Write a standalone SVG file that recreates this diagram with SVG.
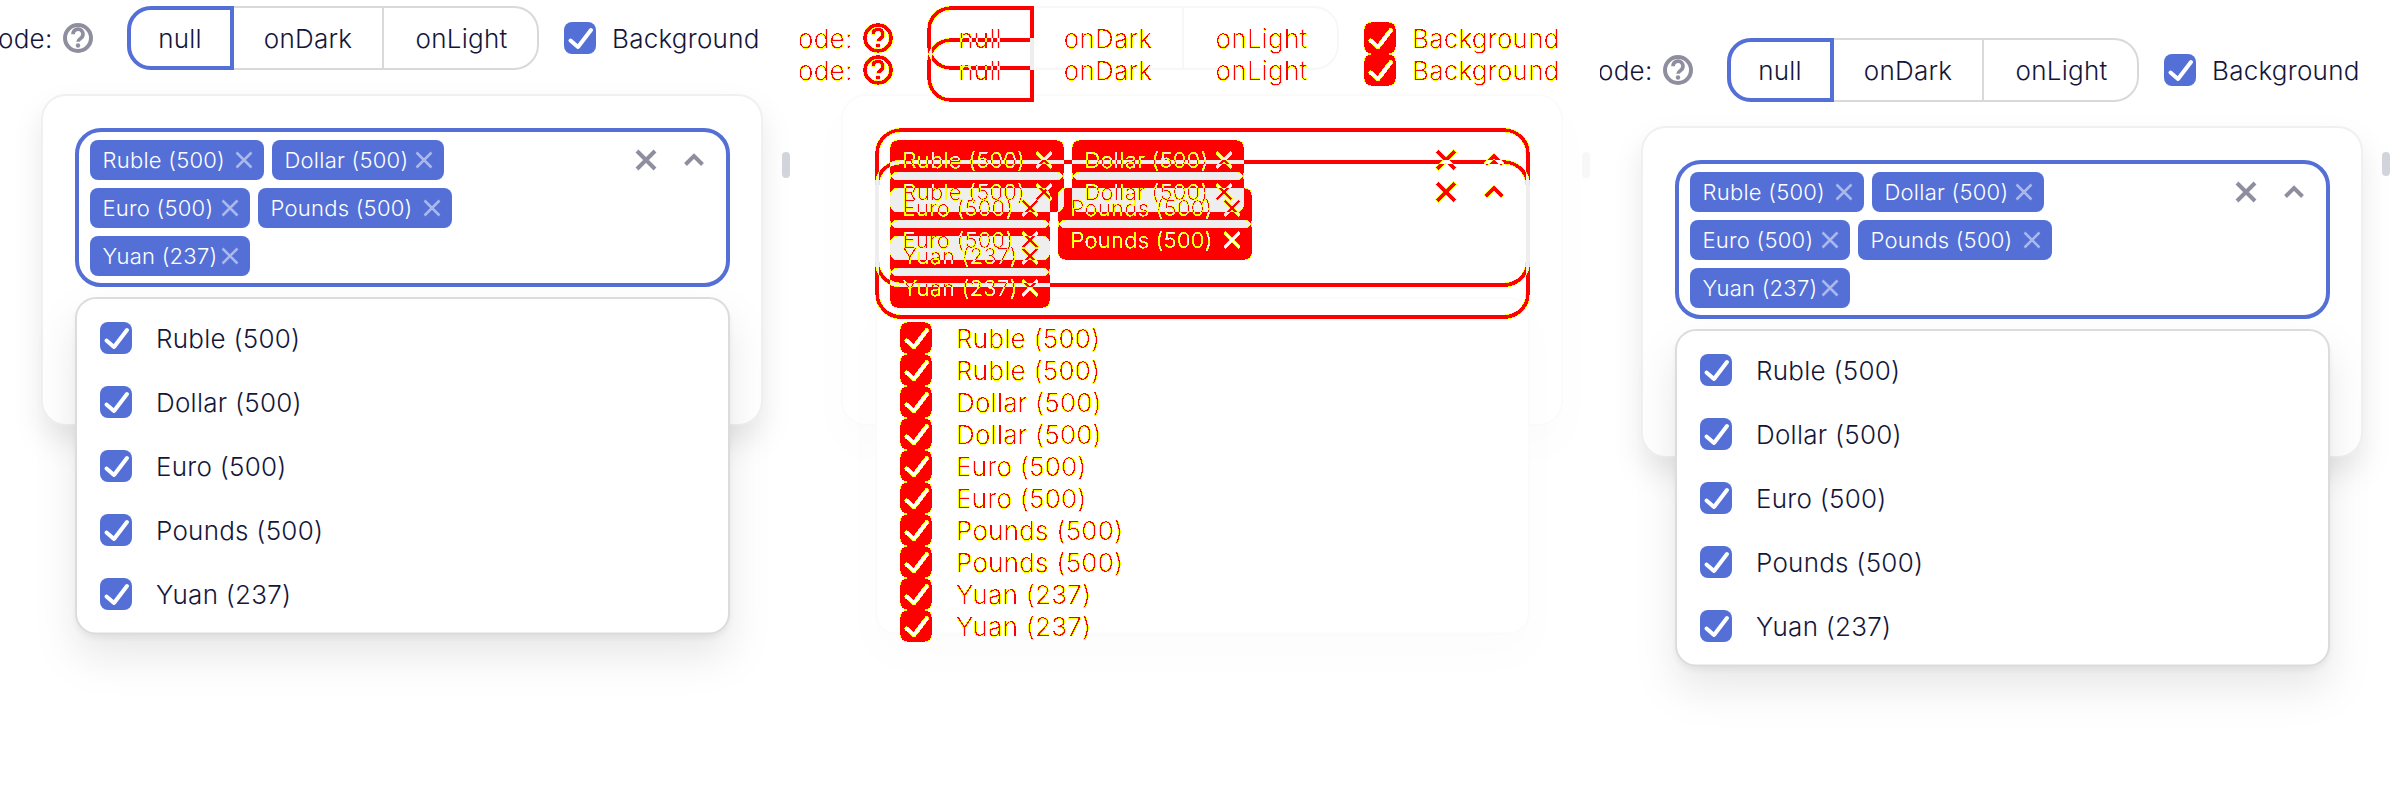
<svg xmlns="http://www.w3.org/2000/svg" width="2400" height="800" viewBox="0 0 2400 800">
<style>
text{font-family:Inter,"Noto Sans","Liberation Sans",sans-serif;font-weight:300;letter-spacing:.25px}
.t{font-size:26px;fill:#14163a}
.ct{font-size:22px;fill:#fff}
.m{text-anchor:middle}
.b{fill:#5470d6}
.cb{fill:#5470d6;color:#fff}
.cx{stroke:#aab8ec;stroke-width:2.5;fill:none}
.ci{stroke:#8e8e9e;stroke-width:4;fill:none}
.ch{stroke:#8e8e9e;stroke-width:4;fill:none}
.q{stroke:#8e8e9e;fill:none}
.q2{fill:#8e8e9e}
.act{stroke:#5470d6;stroke-width:4;fill:none}
.seg{stroke:#d9d9d9;stroke-width:2;fill:#fff}
.panel{stroke:#f0f0f0;stroke-width:2;fill:#fff}
.drop{stroke:#dcdcdc;stroke-width:2;fill:#fff}
.sb{fill:#d1d5db}
.inp{stroke:#5470d6;stroke-width:4;fill:#fff}
.mask .t{fill:#fff}
.mask .ct{fill:#000}
.mask .b{fill:#fff}
.mask .cb{fill:#fff;color:#000}
.mask .cx{stroke:#000}
.mask .ci,.mask .ch,.mask .q,.mask .act{stroke:#fff}
.mask .q2{fill:#fff}
.mask .inp{stroke:#fff;fill:#000}
.pale .seg{stroke:#f7f7f7}
.pale .panel{stroke:#fbfbfb}
.pale .drop{stroke:#fbfbfb}
.pale .b,.pale .cb{fill:#eee}
.pale .act{stroke:#eee}
.pale .inp{stroke:#eee;fill:#fff}
.pale .sb{fill:#f7f7f7}
</style>
<defs>
<g id="cbx"><rect width="32" height="32" rx="8"/><path d="M6.5 18.5L14 25L27 8" fill="none" stroke="currentColor" stroke-width="4" stroke-linecap="round" stroke-linejoin="round"/></g>
<path id="x8" d="M-7.5-7.5L7.5 7.5M7.5-7.5L-7.5 7.5"/>
<path id="x9" d="M-9-9L9 9M9-9L-9 9"/>
<path id="chev" d="M-8.5 4.5L0-4L8.5 4.5"/>
<g id="qm"><circle cx="78" cy="38" r="13" stroke-width="4"/><path d="M73 34.2a5 5 0 1 1 7.6 4.2c-1.8 1.2-2.6 1.9-2.6 3.4" stroke-width="3.6"/></g>
<path id="active" d="M232 8H151a22 22 0 0 0-22 22V46a22 22 0 0 0 22 22H232Z"/>
<clipPath id="pc"><rect x="0" y="-100" width="800" height="1000"/></clipPath>
<filter id="sh1" x="-20%" y="-20%" width="140%" height="150%" color-interpolation-filters="sRGB"><feDropShadow dx="0" dy="16" stdDeviation="14" flood-color="#000" flood-opacity=".09"/></filter>
<filter id="sh2" x="-20%" y="-20%" width="140%" height="150%" color-interpolation-filters="sRGB"><feDropShadow dx="0" dy="4" stdDeviation="3" flood-color="#000" flood-opacity=".05"/><feDropShadow dx="0" dy="22" stdDeviation="20" flood-color="#000" flood-opacity=".09"/></filter>
<filter id="sh3" x="-20%" y="-20%" width="140%" height="150%" color-interpolation-filters="sRGB"><feDropShadow dx="0" dy="20" stdDeviation="18" flood-color="#000" flood-opacity=".01"/></filter>
<filter id="diff" filterUnits="userSpaceOnUse" x="800" y="0" width="800" height="800" color-interpolation-filters="sRGB">
<feColorMatrix type="matrix" values="1 0 0 0 0 1 0 0 0 0 1 0 0 0 0 0 0 0 0 1"/>
<feComponentTransfer>
<feFuncR type="discrete" tableValues="0 1 1 1 1 1 1 1 1 1"/>
<feFuncG type="discrete" tableValues="0 1 1 1 1 1 1 1 0 0"/>
<feFuncB type="discrete" tableValues="0 1 1 1 1 1 1 1 1 1"/>
</feComponentTransfer>
<feColorMatrix type="matrix" values="1 0 0 0 0 0 1 0 0 0 0 0 0 0 0 0 0 1 0 0"/>
</filter>
</defs>
<rect width="2400" height="800" fill="#fff"/>

<g id="panel-left">
<g id="left-toolbar" clip-path="url(#pc)">
<text class="t" x="-2" y="48">ode:</text>
<use href="#qm" class="q"/><circle class="q2" cx="78" cy="45.5" r="2.2"/>
<rect class="seg" x="128" y="7" width="410" height="62" rx="24"/>
<path class="seg" d="M383 7V69"/>
<use href="#active" class="act"/>
<text class="t m" x="180" y="48">null</text><text class="t m" x="308" y="48">onDark</text><text class="t m" x="461.5" y="48">onLight</text>
<use href="#cbx" class="cb" x="564" y="22"/><text class="t" x="612" y="48">Background</text>
</g>
<g id="left-card">
<rect class="panel" x="42" y="95" width="720" height="330" rx="24" filter="url(#sh1)"/>
<rect class="sb" x="782" y="152" width="8" height="26" rx="4"/>
<rect class="inp" x="77" y="130" width="651" height="155" rx="24"/>
<rect class="b" x="90" y="140" width="174" height="40" rx="8"/><text class="ct" x="102.5" y="168">Ruble (500)</text><use class="cx" href="#x8" x="244" y="160"/>
<rect class="b" x="272" y="140" width="172" height="40" rx="8"/><text class="ct" x="284.5" y="168">Dollar (500)</text><use class="cx" href="#x8" x="424" y="160"/>
<rect class="b" x="90" y="188" width="160" height="40" rx="8"/><text class="ct" x="102.5" y="216">Euro (500)</text><use class="cx" href="#x8" x="230" y="208"/>
<rect class="b" x="258" y="188" width="194" height="40" rx="8"/><text class="ct" x="270.5" y="216">Pounds (500)</text><use class="cx" href="#x8" x="432" y="208"/>
<rect class="b" x="90" y="236" width="160" height="40" rx="8"/><text class="ct" x="102.5" y="264">Yuan (237)</text><use class="cx" href="#x8" x="230" y="256"/>
<use class="ci" href="#x9" x="646" y="160"/><use class="ch" href="#chev" x="694" y="160"/>
</g>
<g id="left-dropdown">
<rect class="drop" x="76" y="298" width="653" height="335.5" rx="20" filter="url(#sh2)"/>
<use href="#cbx" class="cb" x="100" y="322"/><text class="t" x="156" y="348">Ruble (500)</text>
<use href="#cbx" class="cb" x="100" y="386"/><text class="t" x="156" y="412">Dollar (500)</text>
<use href="#cbx" class="cb" x="100" y="450"/><text class="t" x="156" y="476">Euro (500)</text>
<use href="#cbx" class="cb" x="100" y="514"/><text class="t" x="156" y="540">Pounds (500)</text>
<use href="#cbx" class="cb" x="100" y="578"/><text class="t" x="156" y="604">Yuan (237)</text>
</g>
</g>

<g id="panel-diff">
<g id="diff-base" class="pale" transform="translate(800 0)">
<rect class="seg" x="128" y="7" width="410" height="62" rx="24"/>
<path class="seg" d="M383 7V69"/>
<use href="#active" class="act"/>
<rect class="panel" x="42" y="95" width="720" height="330" rx="24" filter="url(#sh3)"/>
<rect class="sb" x="782" y="152" width="8" height="26" rx="4"/>
<rect class="inp" x="77" y="130" width="651" height="155" rx="24"/>
<rect class="b" x="90" y="140" width="174" height="40" rx="8"/>
<rect class="b" x="272" y="140" width="172" height="40" rx="8"/>
<rect class="b" x="90" y="188" width="160" height="40" rx="8"/>
<rect class="b" x="258" y="188" width="194" height="40" rx="8"/>
<rect class="b" x="90" y="236" width="160" height="40" rx="8"/>
<rect class="drop" x="76" y="298" width="653" height="335.5" rx="20" filter="url(#sh3)"/>
</g>
<g id="diff-overlay" filter="url(#diff)">
<rect x="800" width="800" height="800" fill="#000"/>
<g id="diff-a" class="mask" transform="translate(800 0)">
<text class="t" x="-2" y="48">ode:</text>
<use href="#qm" class="q"/><circle class="q2" cx="78" cy="45.5" r="2.2"/>
<use href="#active" class="act"/>
<text class="t m" x="180" y="48">null</text><text class="t m" x="308" y="48">onDark</text><text class="t m" x="461.5" y="48">onLight</text>
<use href="#cbx" class="cb" x="564" y="22"/><text class="t" x="612" y="48">Background</text>
<rect class="inp" x="77" y="130" width="651" height="155" rx="24"/>
<rect class="b" x="90" y="140" width="174" height="40" rx="8"/><text class="ct" x="102.5" y="168">Ruble (500)</text><use class="cx" href="#x8" x="244" y="160"/>
<rect class="b" x="272" y="140" width="172" height="40" rx="8"/><text class="ct" x="284.5" y="168">Dollar (500)</text><use class="cx" href="#x8" x="424" y="160"/>
<rect class="b" x="90" y="188" width="160" height="40" rx="8"/><text class="ct" x="102.5" y="216">Euro (500)</text><use class="cx" href="#x8" x="230" y="208"/>
<rect class="b" x="258" y="188" width="194" height="40" rx="8"/><text class="ct" x="270.5" y="216">Pounds (500)</text><use class="cx" href="#x8" x="432" y="208"/>
<rect class="b" x="90" y="236" width="160" height="40" rx="8"/><text class="ct" x="102.5" y="264">Yuan (237)</text><use class="cx" href="#x8" x="230" y="256"/>
<use class="ci" href="#x9" x="646" y="160"/><use class="ch" href="#chev" x="694" y="160"/>
<use href="#cbx" class="cb" x="100" y="322"/><text class="t" x="156" y="348">Ruble (500)</text>
<use href="#cbx" class="cb" x="100" y="386"/><text class="t" x="156" y="412">Dollar (500)</text>
<use href="#cbx" class="cb" x="100" y="450"/><text class="t" x="156" y="476">Euro (500)</text>
<use href="#cbx" class="cb" x="100" y="514"/><text class="t" x="156" y="540">Pounds (500)</text>
<use href="#cbx" class="cb" x="100" y="578"/><text class="t" x="156" y="604">Yuan (237)</text>
</g>
<g id="diff-b" style="mix-blend-mode:difference">
<rect x="800" width="800" height="800" fill="#000"/>
<g class="mask" transform="translate(800 32)">
<text class="t" x="-2" y="48">ode:</text>
<use href="#qm" class="q"/><circle class="q2" cx="78" cy="45.5" r="2.2"/>
<use href="#active" class="act"/>
<text class="t m" x="180" y="48">null</text><text class="t m" x="308" y="48">onDark</text><text class="t m" x="461.5" y="48">onLight</text>
<use href="#cbx" class="cb" x="564" y="22"/><text class="t" x="612" y="48">Background</text>
<rect class="inp" x="77" y="130" width="651" height="155" rx="24"/>
<rect class="b" x="90" y="140" width="174" height="40" rx="8"/><text class="ct" x="102.5" y="168">Ruble (500)</text><use class="cx" href="#x8" x="244" y="160"/>
<rect class="b" x="272" y="140" width="172" height="40" rx="8"/><text class="ct" x="284.5" y="168">Dollar (500)</text><use class="cx" href="#x8" x="424" y="160"/>
<rect class="b" x="90" y="188" width="160" height="40" rx="8"/><text class="ct" x="102.5" y="216">Euro (500)</text><use class="cx" href="#x8" x="230" y="208"/>
<rect class="b" x="258" y="188" width="194" height="40" rx="8"/><text class="ct" x="270.5" y="216">Pounds (500)</text><use class="cx" href="#x8" x="432" y="208"/>
<rect class="b" x="90" y="236" width="160" height="40" rx="8"/><text class="ct" x="102.5" y="264">Yuan (237)</text><use class="cx" href="#x8" x="230" y="256"/>
<use class="ci" href="#x9" x="646" y="160"/><use class="ch" href="#chev" x="694" y="160"/>
<use href="#cbx" class="cb" x="100" y="322"/><text class="t" x="156" y="348">Ruble (500)</text>
<use href="#cbx" class="cb" x="100" y="386"/><text class="t" x="156" y="412">Dollar (500)</text>
<use href="#cbx" class="cb" x="100" y="450"/><text class="t" x="156" y="476">Euro (500)</text>
<use href="#cbx" class="cb" x="100" y="514"/><text class="t" x="156" y="540">Pounds (500)</text>
<use href="#cbx" class="cb" x="100" y="578"/><text class="t" x="156" y="604">Yuan (237)</text>
</g>
</g>
</g>
</g>

<g id="panel-right" transform="translate(1600 32)">
<g id="right-toolbar" clip-path="url(#pc)">
<text class="t" x="-2" y="48">ode:</text>
<use href="#qm" class="q"/><circle class="q2" cx="78" cy="45.5" r="2.2"/>
<rect class="seg" x="128" y="7" width="410" height="62" rx="24"/>
<path class="seg" d="M383 7V69"/>
<use href="#active" class="act"/>
<text class="t m" x="180" y="48">null</text><text class="t m" x="308" y="48">onDark</text><text class="t m" x="461.5" y="48">onLight</text>
<use href="#cbx" class="cb" x="564" y="22"/><text class="t" x="612" y="48">Background</text>
</g>
<g id="right-card">
<rect class="panel" x="42" y="95" width="720" height="330" rx="24" filter="url(#sh1)"/>
<rect class="sb" x="782" y="120" width="8" height="24" rx="4"/>
<rect class="inp" x="77" y="130" width="651" height="155" rx="24"/>
<rect class="b" x="90" y="140" width="174" height="40" rx="8"/><text class="ct" x="102.5" y="168">Ruble (500)</text><use class="cx" href="#x8" x="244" y="160"/>
<rect class="b" x="272" y="140" width="172" height="40" rx="8"/><text class="ct" x="284.5" y="168">Dollar (500)</text><use class="cx" href="#x8" x="424" y="160"/>
<rect class="b" x="90" y="188" width="160" height="40" rx="8"/><text class="ct" x="102.5" y="216">Euro (500)</text><use class="cx" href="#x8" x="230" y="208"/>
<rect class="b" x="258" y="188" width="194" height="40" rx="8"/><text class="ct" x="270.5" y="216">Pounds (500)</text><use class="cx" href="#x8" x="432" y="208"/>
<rect class="b" x="90" y="236" width="160" height="40" rx="8"/><text class="ct" x="102.5" y="264">Yuan (237)</text><use class="cx" href="#x8" x="230" y="256"/>
<use class="ci" href="#x9" x="646" y="160"/><use class="ch" href="#chev" x="694" y="160"/>
</g>
<g id="right-dropdown">
<rect class="drop" x="76" y="298" width="653" height="335.5" rx="20" filter="url(#sh2)"/>
<use href="#cbx" class="cb" x="100" y="322"/><text class="t" x="156" y="348">Ruble (500)</text>
<use href="#cbx" class="cb" x="100" y="386"/><text class="t" x="156" y="412">Dollar (500)</text>
<use href="#cbx" class="cb" x="100" y="450"/><text class="t" x="156" y="476">Euro (500)</text>
<use href="#cbx" class="cb" x="100" y="514"/><text class="t" x="156" y="540">Pounds (500)</text>
<use href="#cbx" class="cb" x="100" y="578"/><text class="t" x="156" y="604">Yuan (237)</text>
</g>
</g>
</svg>
